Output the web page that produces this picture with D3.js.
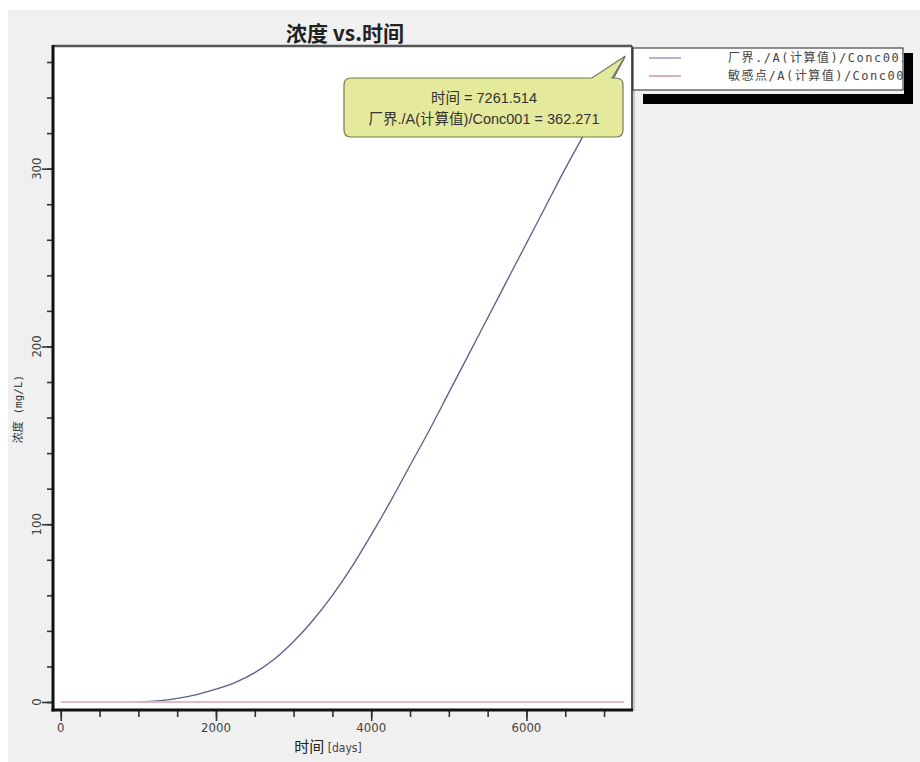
<!DOCTYPE html>
<html><head><meta charset="utf-8">
<script src="https://cdn.jsdelivr.net/npm/d3@7"></script>
<style>
html,body{margin:0;padding:0;background:#fff;}
svg{display:block;}
</style></head>
<body>
<script>
// ---- data ----
const seriesNames = ["厂界./A(计算值)/Conc001", "敏感点/A(计算值)/Conc001"];
const days1 = [1000,1250,1500,1750,2000,2250,2500,2750,3000,3250,3500,3750,4000,4250,4500,4750,5000,5250,5500,5750,6000,6250,6500,6750,7000,7261.514];
const conc1 = [0,0.6,2,4.2,7.2,11,16.5,24,34,46,60,76,94,113,133,153,174,195,216,237,258,279,300,320,341,362.271];
const days2 = [0,1000,2000,3000,4000,5000,6000,7000,7261.514];
const conc2 = [0,0,0,0,0,0,0,0,0];
const xMajorTicks = [0,2000,4000,6000];
const yMajorTicks = [0,100,200,300];
const titleText = "浓度 vs.时间";
const xLabel = "时间";
const xUnit = "[days]";
const yLabel = "浓度 (mg/L)";
const tipX = 7261.514, tipY = 362.271;

const W = 920, H = 762;
const svg = d3.select("body").append("svg").attr("width", W).attr("height", H);
svg.append("rect").attr("x",8).attr("y",10).attr("width",W-8).attr("height",H-10).attr("fill","#f0f0f0");

const L = 53, R = 632, T = 46, B = 710;
const x = d3.scaleLinear().domain([-100, 7360]).range([L, R]);
const y = d3.scaleLinear().domain([-4.5, 369]).range([B, T]);

// plot background
svg.append("rect").attr("x",L).attr("y",T).attr("width",R-L).attr("height",B-T).attr("fill","#fff");

svg.append("clipPath").attr("id","pc").append("rect").attr("x",L+2).attr("y",T+2).attr("width",R-L-4).attr("height",B-T-4);
const g = svg.append("g").attr("clip-path","url(#pc)");

const line = d3.line().x(d=>x(d[0])).y(d=>y(d[1])).curve(d3.curveMonotoneX);
g.append("path").datum(d3.zip(days1, conc1)).attr("d", line)
  .attr("fill","none").attr("stroke","#5c5c8c").attr("stroke-width",1.3);
g.append("path").datum(d3.zip(days2, conc2)).attr("d", line)
  .attr("fill","none").attr("stroke","#e2b4bc").attr("stroke-width",2.2).attr("opacity",0.9);

// frame
svg.append("line").attr("x1",L).attr("x2",R).attr("y1",T).attr("y2",T).attr("stroke","#555").attr("stroke-width",2.5);
svg.append("line").attr("x1",R).attr("x2",R).attr("y1",T).attr("y2",B).attr("stroke","#555").attr("stroke-width",2);
svg.append("line").attr("x1",R+2).attr("x2",R+2).attr("y1",T+2).attr("y2",B+1).attr("stroke","#bbb").attr("stroke-width",1.5);

// axes
const xMinor = d3.range(0, 7001, 500);
const yMinor = d3.range(0, 361, 20);
const yAx = svg.append("g").attr("transform",`translate(${L},0)`)
  .call(d3.axisLeft(y).tickValues(yMinor).tickSize(6).tickFormat(""));
const yAxM = svg.append("g").attr("transform",`translate(${L},0)`)
  .call(d3.axisLeft(y).tickValues(yMajorTicks).tickSize(11).tickFormat(""));
const xAx = svg.append("g").attr("transform",`translate(0,${B})`)
  .call(d3.axisBottom(x).tickValues(xMinor).tickSize(7).tickFormat(""));
const xAxM = svg.append("g").attr("transform",`translate(0,${B})`)
  .call(d3.axisBottom(x).tickValues(xMajorTicks).tickSize(11).tickFormat(""));
[yAx,yAxM,xAx,xAxM].forEach(a=>{
  a.select(".domain").remove();
  a.selectAll(".tick line").attr("stroke","#333").attr("stroke-width",1.6);
});
svg.append("line").attr("x1",L).attr("x2",L).attr("y1",T-1).attr("y2",B+1.5).attr("stroke","#111").attr("stroke-width",3);
svg.append("line").attr("x1",L-1.5).attr("x2",R+1).attr("y1",B).attr("y2",B).attr("stroke","#111").attr("stroke-width",3);

// tick labels
const lblFont = "'Liberation Sans Narrow','DejaVu Sans Condensed','Liberation Sans',sans-serif";
svg.append("g").selectAll("text").data(xMajorTicks).join("text")
  .attr("x",d=>x(d)).attr("y",732).attr("text-anchor","middle")
  .attr("font-family",lblFont).attr("font-size",13).attr("fill","#444").text(d=>d);
svg.append("g").selectAll("text").data(yMajorTicks).join("text")
  .attr("transform",d=>`translate(41,${y(d)}) rotate(-90)`).attr("text-anchor","middle")
  .attr("font-family",lblFont).attr("font-size",13).attr("fill","#444").text(d=>d);

// axis titles
const xt = svg.append("text").attr("x",328).attr("y",752).attr("text-anchor","middle").attr("fill","#222");
xt.append("tspan").attr("font-family","'Noto Sans CJK SC',sans-serif").attr("font-size",15).text(xLabel);
xt.append("tspan").attr("font-family",lblFont).attr("font-size",12).attr("fill","#444").text(" " + xUnit);
svg.append("text").attr("transform","translate(22,409) rotate(-90)").attr("text-anchor","middle")
  .attr("font-family","'DejaVu Sans Mono','Noto Sans CJK SC',monospace").attr("font-size",11).attr("fill","#333")
  .text(yLabel);

// title
svg.append("text").attr("x",345).attr("y",41).attr("text-anchor","middle")
  .attr("font-family","'Noto Sans CJK SC',sans-serif").attr("font-weight","bold").attr("font-size",21).attr("fill","#222")
  .text(titleText);

// legend
const lgX = 633, lgY = 48, lgW = 270, lgH = 42;
svg.append("rect").attr("x",lgX+10).attr("y",lgY+46).attr("width",lgW).attr("height",10).attr("fill","#000");
svg.append("rect").attr("x",lgX+lgW+1).attr("y",lgY+5).attr("width",9).attr("height",51).attr("fill","#000");
svg.append("rect").attr("x",lgX).attr("y",lgY).attr("width",lgW).attr("height",lgH).attr("fill","#fff").attr("stroke","#222").attr("stroke-width",1);
svg.append("clipPath").attr("id","lc").append("rect").attr("x",lgX).attr("y",lgY).attr("width",lgW).attr("height",lgH);
const lg = svg.append("g").attr("clip-path","url(#lc)");
const legendColors = ["#9a9ac4","#c9999c"];
seriesNames.forEach((n,i)=>{
  const yy = lgY + 10 + i*18;
  lg.append("line").attr("x1",lgX+16).attr("x2",lgX+48).attr("y1",yy).attr("y2",yy).attr("stroke",legendColors[i]).attr("stroke-width",1.5);
  lg.append("text").attr("x",lgX+95).attr("y",yy+4).attr("font-family","'DejaVu Sans Mono','Noto Sans CJK SC',monospace")
    .attr("font-size",12).attr("letter-spacing",1.5).attr("fill","#444").text(n);
});

// tooltip
const tx = x(tipX), ty = y(tipY);
const bx0 = 344, by0 = 78, bx1 = 623, by1 = 137, r = 7;
const p = d3.path();
p.moveTo(bx0+r, by0);
p.lineTo(592, by0);
p.lineTo(tx+1, ty-2);
p.lineTo(612, by0);
p.lineTo(bx1-r, by0);
p.quadraticCurveTo(bx1, by0, bx1, by0+r);
p.lineTo(bx1, by1-r);
p.quadraticCurveTo(bx1, by1, bx1-r, by1);
p.lineTo(bx0+r, by1);
p.quadraticCurveTo(bx0, by1, bx0, by1-r);
p.lineTo(bx0, by0+r);
p.quadraticCurveTo(bx0, by0, bx0+r, by0);
p.closePath();
svg.append("path").attr("d", p.toString()).attr("fill","#e4e99c").attr("stroke","#6f7a55").attr("stroke-width",1.2);
const tipFont = "'Liberation Sans','Noto Sans CJK SC',sans-serif";
svg.append("text").attr("x",484).attr("y",103).attr("text-anchor","middle").attr("font-family",tipFont)
  .attr("font-size",14.5).attr("fill","#333").text(`时间 = ${tipX}`);
svg.append("text").attr("x",484).attr("y",124).attr("text-anchor","middle").attr("font-family",tipFont)
  .attr("font-size",14.5).attr("fill","#333").text(`${seriesNames[0]} = ${tipY}`);
</script>
</body></html>
